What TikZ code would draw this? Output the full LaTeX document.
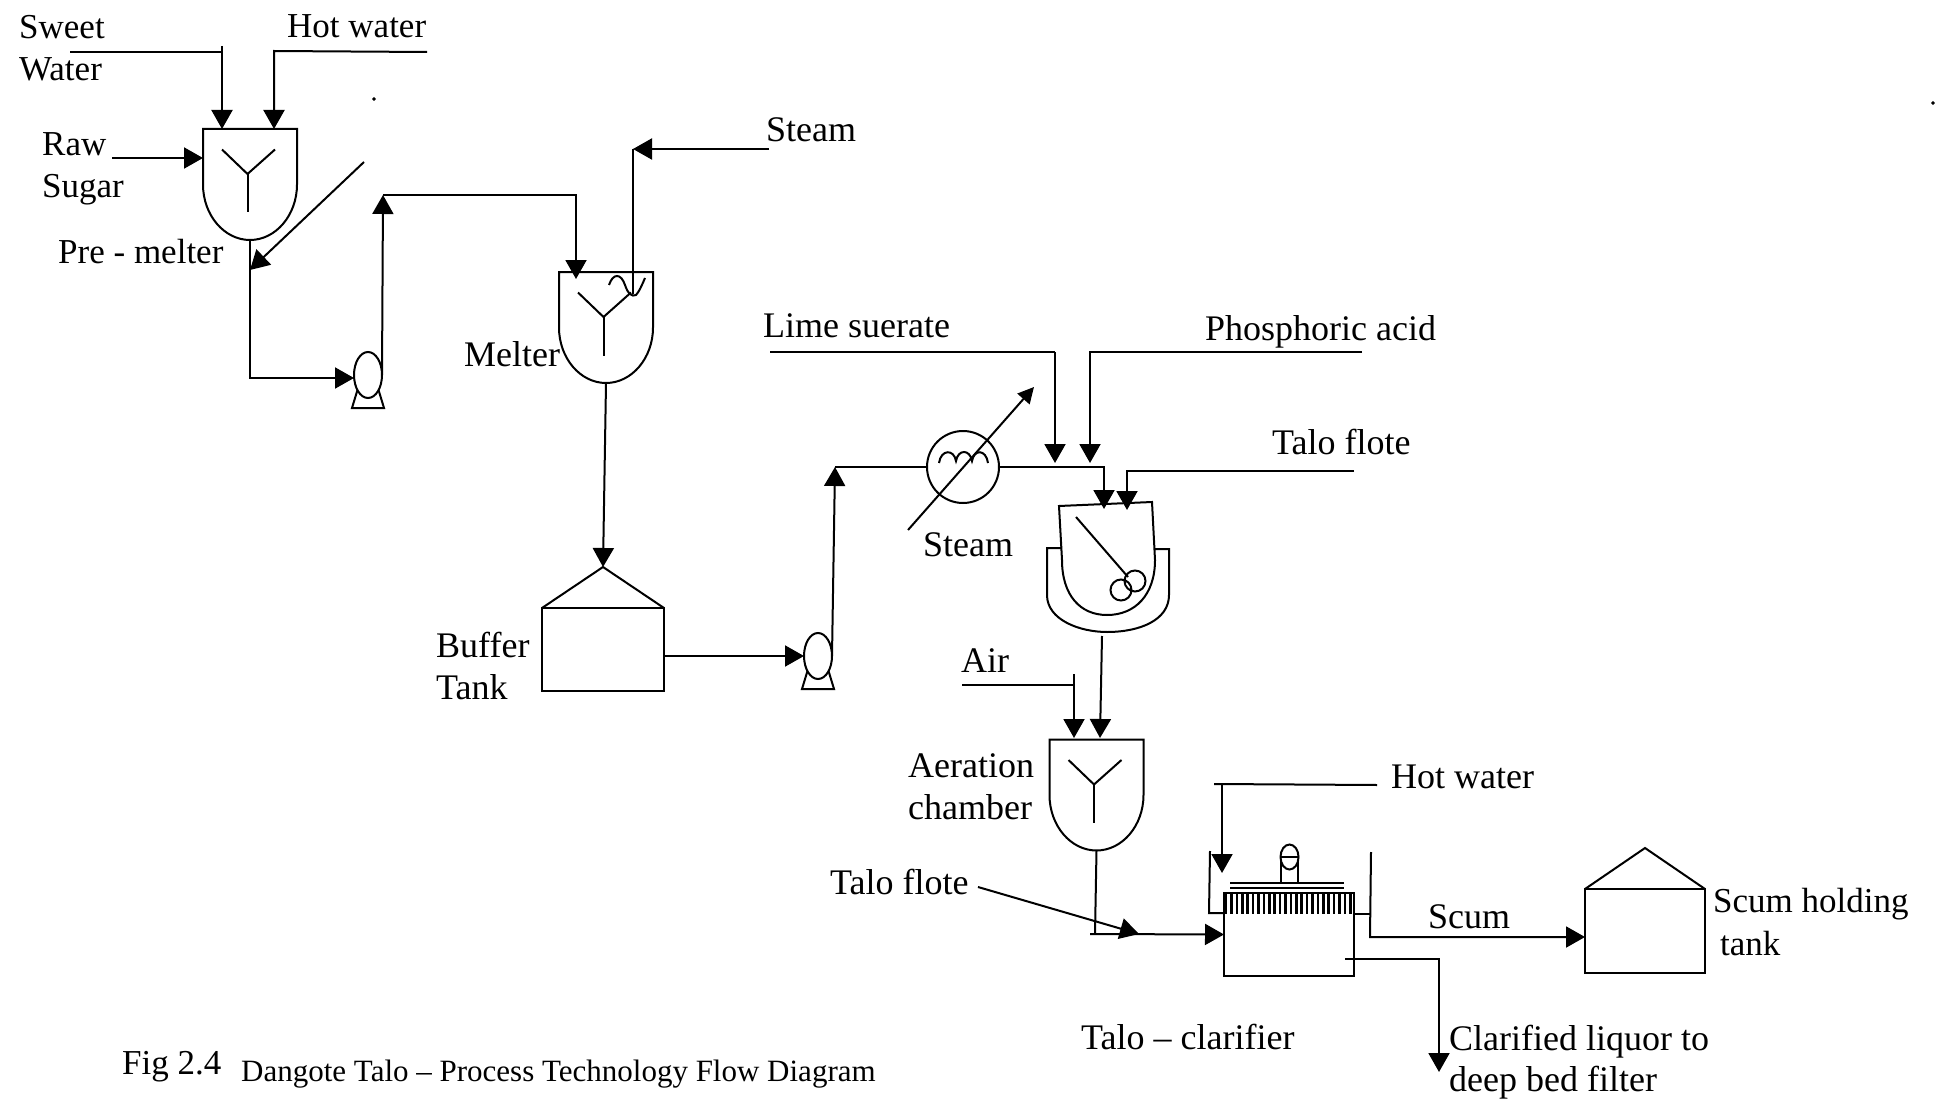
\documentclass[tikz,border=0pt]{standalone}
\usepackage{fontspec}
\setmainfont{Liberation Serif}
\usetikzlibrary{arrows.meta,calc,shapes.geometric}
\tikzset{
    pipe/.style={line width=2pt},
    flow/.style={pipe,-{Triangle[length=19pt,width=21pt]}},
    tag/.style={anchor=west,inner sep=0pt,font=\fontsize{36}{40}\selectfont},
    tagsmall/.style={tag,font=\fontsize{35}{40}\selectfont},
    vessel/.style={minimum width=94pt,minimum height=111pt,inner sep=0pt,outer sep=0pt},
    tank/.style={draw,line width=2pt,inner sep=0pt,outer sep=0pt},
    pump/.style={draw,ellipse,line width=2pt,minimum width=28pt,minimum height=46pt,inner sep=0pt,outer sep=0pt}
}
\newcommand{\vesselshape}[1]{
    \draw[pipe] (#1.north west) -- (#1.north east) -- (#1.east)
        .. controls ($(#1.east)!.55!(#1.south east)$) and ($(#1.south)!.55!(#1.south east)$) .. (#1.south)
        .. controls ($(#1.south)!.55!(#1.south west)$) and ($(#1.west)!.55!(#1.south west)$) .. (#1.west) -- cycle;
    \draw[pipe] ([shift={(-28,-35)}]#1.center) -- ([shift={(-2.5,-10.5)}]#1.center) -- ([shift={(25,-35)}]#1.center);
    \draw[pipe] ([shift={(-2.5,-10.5)}]#1.center) -- ([shift={(-2.5,28)}]#1.center);
}
\newcommand{\pumpbase}[1]{
    \draw[pipe] (#1.-125) -- ([shift={(-16,33)}]#1.center) -- ([shift={(16,33)}]#1.center) -- (#1.-55);
}
\begin{document}
\begin{tikzpicture}[x=1pt,y=-1pt]
    \useasboundingbox (0,0) rectangle (1946,1102);
    % equipment
    \node[vessel] (premelter) at (250,184.5) {};
    \node[vessel] (melter) at (606,327.5) {};
    \node[vessel] (aeration) at (1096.5,795) {};
    \vesselshape{premelter}
    \vesselshape{melter}
    \vesselshape{aeration}
    \node[pump] (pumpa) at (368,375) {};
    \node[pump] (pumpb) at (818,656) {};
    \pumpbase{pumpa}
    \pumpbase{pumpb}
    \node[tank,minimum width=122pt,minimum height=83pt] (buffer) at (603,649.5) {};
    \coordinate (bufferroof) at (603,567);
    \draw[pipe] (buffer.north west) -- (bufferroof) -- (buffer.north east);
    \node[tank,minimum width=120pt,minimum height=84pt] (scumtank) at (1645,931) {};
    \draw[pipe] (scumtank.north west) -- (1645,848) -- (scumtank.north east);
    \node[tank,circle,minimum size=72pt] (heater) at (963,467) {};
    \draw[pipe] (939,463) .. controls (941,449) and (954,449) .. (956,461)
        .. controls (958,449) and (970,449) .. (972,461)
        .. controls (974,449) and (986,449) .. (988,463);
    % jacketed vessel
    \draw[pipe] (1061,548) -- (1047,548) -- (1047,595) .. controls (1047,620) and (1080,632) .. (1107,632)
        .. controls (1140,632) and (1169,620) .. (1169,595) -- (1169,549) -- (1155,549);
    \draw[pipe] (1059,506) -- (1152,502) -- (1155,560) .. controls (1155,595) and (1135,615) .. (1107,615)
        .. controls (1080,615) and (1062,595) .. (1062,560) -- cycle;
    \draw[pipe] (1076,517) -- (1128,577);
    \node[tank,circle,minimum size=21pt] (ballup) at (1135,581) {};
    \node[tank,circle,minimum size=21pt] (balldown) at (1121,590) {};
    % clarifier
    \node[tank,minimum width=130pt,minimum height=83pt] (clarifier) at (1289,934.5) {};
    \foreach \x in {1226,1231.4,...,1354}
        \draw[line width=2.6pt] (\x,893) -- (\x,914);
    \draw[pipe] (1230,883) -- (1344,883);
    \draw[pipe] (1230,888) -- (1344,888);
    \node[tank,ellipse,minimum width=18pt,minimum height=25pt] (float) at (1289.5,857) {};
    \draw[pipe] (float.west) -- (float.east);
    \draw[pipe] (1281,862) -- (1281,883);
    \draw[pipe] (1298,862) -- (1298,883);
    \draw[pipe] (1210,851) -- (1209,913) -- (1224,913);
    % free ends
    \coordinate (sweetin) at (70,52);
    \coordinate (sweetdrop) at (222,52);
    \coordinate (sweettop) at (222,46);
    \coordinate (sweetend) at (222,129);
    \coordinate (hotin) at (427,52);
    \coordinate (hotdrop) at (274,51);
    \coordinate (hotend) at (274,129);
    \coordinate (rawin) at (112,158);
    \coordinate (recycle) at (364,162);
    \coordinate (recycleend) at (250,270);
    \coordinate (pumpacorner) at (383,195);
    \coordinate (melterin) at (576,279);
    \coordinate (steamin) at (769,149);
    \coordinate (steamdrop) at (633,149);
    \coordinate (steamend) at (633,294);
    \coordinate (pumpbcorner) at (835,467);
    \coordinate (steamlow) at (908,530);
    \coordinate (steamhigh) at (1034,387);
    \coordinate (limein) at (770,352);
    \coordinate (limedrop) at (1055,352);
    \coordinate (limeend) at (1055,463);
    \coordinate (acidin) at (1362,352);
    \coordinate (aciddrop) at (1090,352);
    \coordinate (acidend) at (1090,463);
    \coordinate (heaterend) at (1104,509);
    \coordinate (floteain) at (1354,471);
    \coordinate (floteadrop) at (1127,471);
    \coordinate (floteaend) at (1127,510);
    \coordinate (jacketout) at (1102,636);
    \coordinate (aerationend) at (1100,738);
    \coordinate (airin) at (962,685);
    \coordinate (airdrop) at (1074,685);
    \coordinate (airtop) at (1074,674);
    \coordinate (airend) at (1074,738);
    \coordinate (junction) at (1095,934);
    \coordinate (junctionstart) at (1090,934);
    \coordinate (flotebin) at (978,887);
    \coordinate (flotebend) at (1139,934);
    \coordinate (hotbin) at (1377,785);
    \coordinate (hotbstub) at (1214,784);
    \coordinate (hotbdrop) at (1222,784);
    \coordinate (hotbend) at (1222,873);
    \coordinate (scumweir) at (1371,914);
    \coordinate (scumtop) at (1371,852);
    \coordinate (scumturn) at (1370,937);
    \coordinate (liquorin) at (1345,959);
    \coordinate (liquorturn) at (1439,959);
    \coordinate (liquorend) at (1439,1072);
    % streams
    \draw[pipe] (sweetin) -- (sweetdrop);
    \draw[flow] (sweettop) -- (sweetend);
    \draw[flow] (hotin) -- (hotdrop) -- (hotend);
    \draw[flow] (rawin) -- (premelter.west |- rawin);
    \draw[flow] (recycle) -- (recycleend);
    \draw[flow] (premelter.south) |- ([yshift=-3pt]pumpa.west);
    \draw[flow] (pumpa.east) -- (pumpacorner);
    \draw[flow] (pumpacorner) -| (melterin);
    \draw[flow] (steamin) -- (steamdrop);
    \draw[pipe] (steamdrop) -- (steamend);
    \draw[pipe] (609,285) .. controls (613,273) and (621,273) .. (625,285) .. controls (628,294) and (632,297) .. (636,295) .. controls (639,292) and (642,285) .. (645,278);
    \draw[flow] (melter.south) -- (bufferroof);
    \draw[flow] (buffer.east |- pumpb.west) -- (pumpb.west);
    \draw[flow] (pumpb.east) -- (pumpbcorner);
    \draw[pipe] (pumpbcorner) -- (heater.west);
    \draw[pipe,-{Triangle[length=16pt,width=16pt]}] (steamlow) -- (steamhigh);
    \draw[pipe] (limein) -- (limedrop);
    \draw[flow] (limedrop) -- (limeend);
    \draw[flow] (acidin) -- (aciddrop) -- (acidend);
    \draw[flow] (heater.east) -| (heaterend);
    \draw[flow] (floteain) -- (floteadrop) -- (floteaend);
    \draw[flow] (jacketout) -- (aerationend);
    \draw[pipe] (airin) -- (airdrop);
    \draw[flow] (airtop) -- (airend);
    \draw[pipe] (aeration.south) -- (junction);
    \draw[flow] (junctionstart) -- (clarifier.west);
    \draw[flow] (flotebin) -- (flotebend);
    \draw[pipe] (hotbin) -- (hotbstub);
    \draw[flow] (hotbdrop) -- (hotbend);
    \draw[pipe] (clarifier.east |- scumweir) -- (scumweir);
    \draw[flow] (scumtop) -- (scumturn) -- (scumtank.west |- scumturn);
    \draw[flow] (liquorin) -- (liquorturn) -- (liquorend);
    % specks
    \draw[fill] (374,99) circle (1.6pt);
    \draw[fill] (1933,103) circle (1.6pt);
    % labels
    \node[tagsmall] (tsweet) at (19,27) {Sweet};
    \node[tagsmall] (twater) at (19,69) {Water};
    \node[tagsmall] (thot) at (287,26) {Hot water};
    \node[tagsmall] (traw) at (42,144) {Raw};
    \node[tagsmall] (tsugar) at (42,190) {Sugar};
    \node[tagsmall] (tpre) at (58,252) {Pre - melter};
    \node[tag] (tsteam) at (766,130) {Steam};
    \node[tag] (tmelter) at (464,354) {Melter};
    \node[tag] (tlime) at (763,326) {Lime suerate};
    \node[tag] (tacid) at (1205,332) {Phosphoric acid};
    \node[tag] (tflote) at (1272,442) {Talo flote};
    \node[tag] (tsteamb) at (923,545) {Steam};
    \node[tag] (tair) at (961,661) {Air};
    \node[tag] (tbuffer) at (436,645) {Buffer};
    \node[tag] (ttank) at (436,687) {Tank};
    \node[tag] (taeration) at (908,766) {Aeration};
    \node[tag] (tchamber) at (908,807) {chamber};
    \node[tag] (thotb) at (1391,777) {Hot water};
    \node[tag] (tfloteb) at (830,882) {Talo flote};
    \node[tag] (tscum) at (1428,917) {Scum};
    \node[tagsmall] (tscumtank) at (1713,904) {Scum holding};
    \node[tagsmall] (tscumtankb) at (1720,944) {tank};
    \node[tag] (tclarifier) at (1081,1037) {Talo -- clarifier};
    \node[tag] (tliquor) at (1449,1042) {Clarified liquor to};
    \node[tag] (tliquorb) at (1449,1083) {deep bed filter};
    \node[tagsmall] (tfig) at (122,1067) {Fig 2.4};
    \node[tag,font=\fontsize{31}{34}\selectfont] (tcaption) at (241,1074) {Dangote Talo -- Process Technology Flow Diagram};
\end{tikzpicture}
\end{document}
